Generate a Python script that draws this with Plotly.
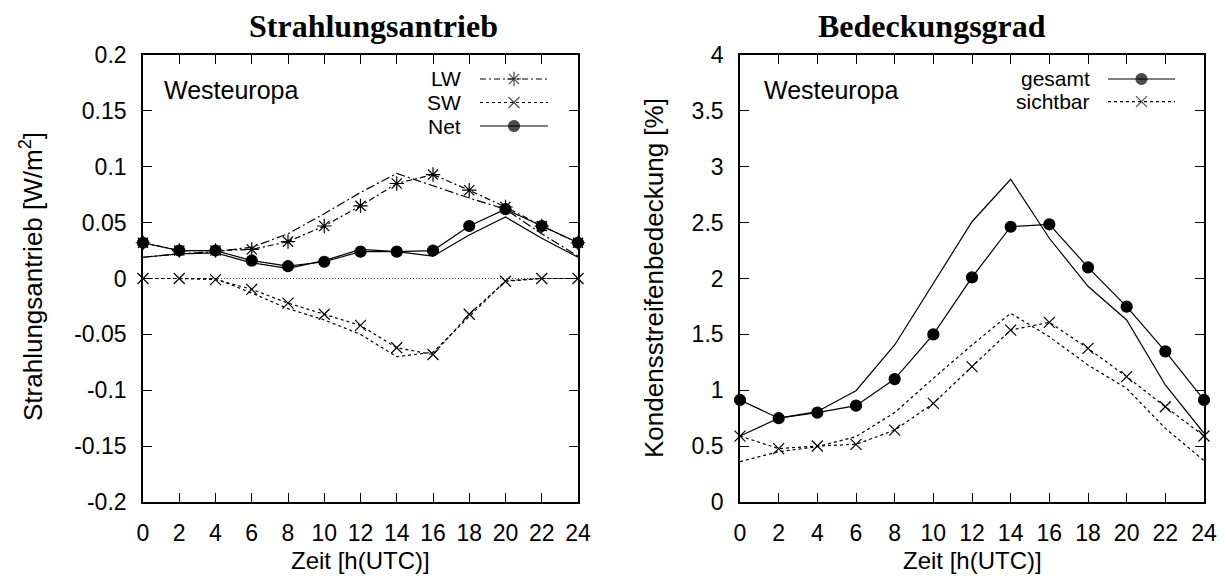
import plotly.graph_objects as go

# Hours of day (UTC)
hours = [0, 2, 4, 6, 8, 10, 12, 14, 16, 18, 20, 22, 24]

# Radiative forcing, Western Europe [W/m^2]
lw_pts = [0.032, 0.025, 0.025, 0.026, 0.033, 0.047, 0.065, 0.085, 0.093, 0.079, 0.064, 0.047, 0.032]
lw_line = [0.019, 0.022, 0.024, 0.028, 0.040, 0.058, 0.077, 0.094, 0.083, 0.072, 0.062, 0.040, 0.020]
sw_pts = [0.0, 0.0, -0.001, -0.0097, -0.022, -0.032, -0.042, -0.062, -0.068, -0.032, -0.0025, 0.0, 0.0]
sw_line = [0.0, 0.0, 0.0, -0.013, -0.027, -0.037, -0.050, -0.070, -0.066, -0.034, -0.002, 0.0, 0.0]
net_pts = [0.032, 0.025, 0.025, 0.016, 0.011, 0.015, 0.024, 0.024, 0.025, 0.047, 0.062, 0.047, 0.032]
net_line = [0.019, 0.022, 0.023, 0.014, 0.009, 0.016, 0.026, 0.024, 0.020, 0.039, 0.055, 0.036, 0.019]

# Contrail coverage, Western Europe [%]
ges_pts = [0.913, 0.75, 0.80, 0.862, 1.10, 1.50, 2.01, 2.463, 2.485, 2.10, 1.748, 1.348, 0.913]
ges_line = [0.59, 0.75, 0.81, 0.996, 1.405, 1.96, 2.508, 2.888, 2.36, 1.93, 1.629, 1.047, 0.615]
sicht_pts = [0.59, 0.478, 0.501, 0.516, 0.643, 0.882, 1.211, 1.538, 1.608, 1.375, 1.122, 0.852, 0.591]
sicht_line = [0.361, 0.45, 0.495, 0.585, 0.80, 1.107, 1.405, 1.689, 1.479, 1.226, 1.017, 0.659, 0.37]

x_ticks = [0, 2, 4, 6, 8, 10, 12, 14, 16, 18, 20, 22, 24]
y1_ticks = [-0.2, -0.15, -0.1, -0.05, 0, 0.05, 0.1, 0.15, 0.2]
y1_text = ["-0.2", "-0.15", "-0.1", "-0.05", "0", "0.05", "0.1", "0.15", "0.2"]
y2_ticks = [0, 0.5, 1, 1.5, 2, 2.5, 3, 3.5, 4]
y2_text = ["0", "0.5", "1", "1.5", "2", "2.5", "3", "3.5", "4"]

W, H = 1227, 578
X1_RANGE, Y1_RANGE = [0, 24], [-0.2, 0.2]
X2_RANGE, Y2_RANGE = [0, 24], [0, 4]
L_DOM = [143 / W, 578 / W]
R_DOM = [740 / W, 1204 / W]
Y_DOM = [1 - 502 / H, 1 - 55 / H]

SANS = "Liberation Sans, Arial, sans-serif"
SERIF = "Liberation Serif, Times New Roman, serif"
LW = 1.2


def px(x):
    return x / W


def py(y):
    return 1 - y / H


def to_data(xpix, ypix, xdom, xr, yr):
    """Pixel position -> data coordinates of a subplot."""
    fx = (xpix / W - xdom[0]) / (xdom[1] - xdom[0])
    fy = ((1 - ypix / H) - Y_DOM[0]) / (Y_DOM[1] - Y_DOM[0])
    return xr[0] + fx * (xr[1] - xr[0]), yr[0] + fy * (yr[1] - yr[0])


fig = go.Figure()


def series(x, y, ax, dash, symbol=None, msize=10):
    xa, ya = ax
    mode = "lines+markers" if symbol else "lines"
    marker = None
    if symbol:
        marker = dict(symbol=symbol, size=msize, color="black",
                      line=dict(color="black", width=1.2))
    fig.add_trace(go.Scatter(
        x=x, y=y, mode=mode, xaxis=xa, yaxis=ya, showlegend=False,
        line=dict(color="black", width=LW, dash=dash),
        marker=marker, cliponaxis=False, hoverinfo="skip"))


LEFT = ("x", "y")
RIGHT = ("x2", "y2")

DASHDOT = "6px,3px,2px,3px"
DASHDOT2 = "9px,3px,2px,3px"
SHORTDASH = "3px,3px"

# Left panel: model lines then marked series
series(hours, lw_line, LEFT, DASHDOT2)
series(hours, sw_line, LEFT, SHORTDASH)
series(hours, net_line, LEFT, "solid")
series(hours, lw_pts, LEFT, DASHDOT, "asterisk-open", 12)
series(hours, sw_pts, LEFT, SHORTDASH, "x-thin-open", 11)
series(hours, net_pts, LEFT, "solid", "circle", 11)

# Right panel
series(hours, ges_line, RIGHT, "solid")
series(hours, sicht_line, RIGHT, SHORTDASH)
series(hours, ges_pts, RIGHT, "solid", "circle", 11)
series(hours, sicht_pts, RIGHT, SHORTDASH, "x-thin-open", 11)

annotations = []


def legend_key(label, ypix, text_right, x0, x1, ax, xdom, xr, yr, dash, symbol, msize):
    xa, ya = ax
    (dx0, dy), (dx1, _) = to_data(x0, ypix, xdom, xr, yr), to_data(x1, ypix, xdom, xr, yr)
    dxm = (dx0 + dx1) / 2
    fig.add_trace(go.Scatter(
        x=[dx0, dxm, dx1], y=[dy, dy, dy], mode="lines+markers",
        xaxis=xa, yaxis=ya, showlegend=False, hoverinfo="skip", cliponaxis=False,
        line=dict(color="black", width=LW, dash=dash),
        marker=dict(symbol=symbol, size=[0, msize, 0], color="black",
                    line=dict(color="black", width=1.2))))
    annotations.append(dict(
        text=label, x=px(text_right), y=py(ypix), xref="paper", yref="paper",
        xanchor="right", yanchor="middle", showarrow=False,
        font=dict(family=SANS, size=21, color="black")))


legend_key("LW", 79, 463, 480, 548, LEFT, L_DOM, X1_RANGE, Y1_RANGE, DASHDOT, "asterisk-open", 12)
legend_key("SW", 102.5, 463, 480, 548, LEFT, L_DOM, X1_RANGE, Y1_RANGE, SHORTDASH, "x-thin-open", 11)
legend_key("Net", 126, 463, 480, 548, LEFT, L_DOM, X1_RANGE, Y1_RANGE, "solid", "circle", 11)
legend_key("gesamt", 79, 1092, 1108, 1175, RIGHT, R_DOM, X2_RANGE, Y2_RANGE, "solid", "circle", 11)
legend_key("sichtbar", 101.7, 1092, 1108, 1175, RIGHT, R_DOM, X2_RANGE, Y2_RANGE, SHORTDASH, "x-thin-open", 11)

# Region labels
for xl in (162, 762):
    annotations.append(dict(
        text="Westeuropa", x=px(xl), y=py(90), xref="paper", yref="paper",
        xanchor="left", yanchor="middle", showarrow=False,
        font=dict(family=SANS, size=25, color="black")))

# Panel titles
for txt, xc in (("Strahlungsantrieb", 373), ("Bedeckungsgrad", 932)):
    annotations.append(dict(
        text="<b>%s</b>" % txt, x=px(xc), y=py(26), xref="paper", yref="paper",
        xanchor="center", yanchor="middle", showarrow=False,
        font=dict(family=SERIF, size=32, color="black")))

# Axis titles
for xc in (360, 972):
    annotations.append(dict(
        text="Zeit [h(UTC)]", x=px(xc), y=py(560), xref="paper", yref="paper",
        xanchor="center", yanchor="middle", showarrow=False,
        font=dict(family=SANS, size=24, color="black")))
annotations.append(dict(
    text="Strahlungsantrieb [W/m<sup>2</sup>]", x=px(31), y=py(277),
    xref="paper", yref="paper", xanchor="center", yanchor="middle",
    textangle=-90, showarrow=False, font=dict(family=SANS, size=26, color="black")))
annotations.append(dict(
    text="Kondensstreifenbedeckung [%]", x=px(654), y=py(278),
    xref="paper", yref="paper", xanchor="center", yanchor="middle",
    textangle=-90, showarrow=False, font=dict(family=SANS, size=26, color="black")))

axis_common = dict(
    showline=True, linecolor="black", linewidth=1.6, mirror="allticks",
    ticks="inside", ticklen=9, tickwidth=1.4, tickcolor="black",
    showgrid=False, zeroline=False, automargin=False,
    tickfont=dict(family=SANS, size=23, color="black"),
    ticklabelstandoff=10,
)

fig.update_layout(
    width=W, height=H, margin=dict(l=0, r=0, t=0, b=0, autoexpand=False),
    paper_bgcolor="white", plot_bgcolor="white",
    xaxis=dict(domain=L_DOM, range=X1_RANGE, tickvals=x_ticks, anchor="y", **axis_common),
    yaxis=dict(domain=Y_DOM, range=Y1_RANGE, tickvals=y1_ticks, ticktext=y1_text,
               anchor="x", **axis_common),
    xaxis2=dict(domain=R_DOM, range=X2_RANGE, tickvals=x_ticks, anchor="y2", **axis_common),
    yaxis2=dict(domain=Y_DOM, range=Y2_RANGE, tickvals=y2_ticks, ticktext=y2_text,
                anchor="x2", **axis_common),
    annotations=annotations,
    shapes=[dict(type="line", xref="x", yref="y", x0=0, x1=24, y0=0, y1=0,
                 line=dict(color="#444444", width=1, dash="1px,2px"), layer="below")],
)

fig.write_html("out.html")
